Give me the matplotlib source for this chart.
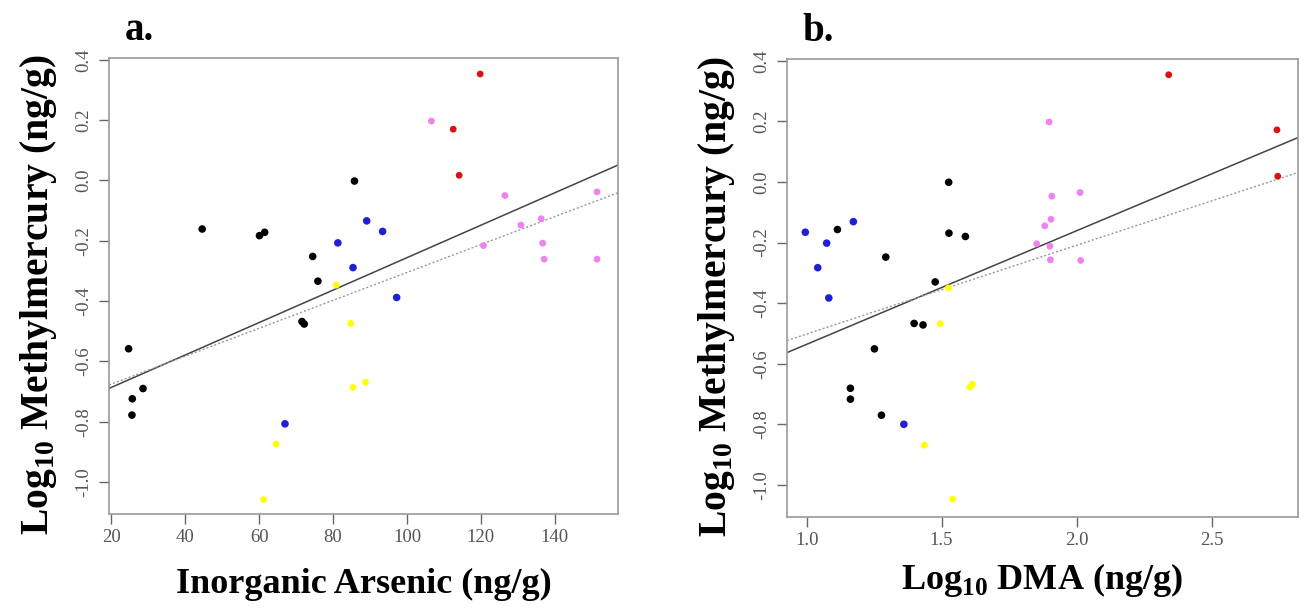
import matplotlib.pyplot as plt
import numpy as np

plt.rcParams['font.family'] = 'Liberation Serif'
plt.rcParams['mathtext.fontset'] = 'custom'
plt.rcParams['mathtext.bf'] = 'Liberation Serif:bold'
plt.rcParams['mathtext.rm'] = 'Liberation Serif:bold'

# groups (same order in both panels)
group_colors = ['black', '#1f1fd8', '#ffff00', '#dd1111', 'violet']

# Log10 methylmercury, per group
mehg_black = [-0.558, -0.724, -0.778, -0.69, -0.161, -0.183, -0.172, -0.002, -0.252, -0.334, -0.468, -0.476]
mehg_blue = [-0.207, -0.134, -0.169, -0.289, -0.388, -0.807]
mehg_yellow = [-0.347, -0.474, -0.686, -0.669, -0.874, -1.058]
mehg_red = [0.353, 0.17, 0.017]
mehg_violet = [0.197, -0.05, -0.038, -0.148, -0.127, -0.216, -0.208, -0.261, -0.261]

# panel a: inorganic arsenic (ng/g)
ias_black = [24.7, 25.7, 25.6, 28.6, 44.6, 60.1, 61.5, 85.8, 74.5, 75.9, 71.6, 72.2]
ias_blue = [81.3, 89.1, 93.4, 85.4, 97.2, 67.0]
ias_yellow = [80.9, 84.8, 85.4, 88.8, 64.6, 61.2]
ias_red = [119.8, 112.5, 114.1]
ias_violet = [106.6, 126.5, 151.4, 130.8, 136.3, 120.7, 136.7, 137.1, 151.4]

# panel b: Log10 DMA, matched to the methylmercury values
mehg_b_black = [-0.157, -0.001, -0.169, -0.18, -0.248, -0.33, -0.467, -0.472, -0.551, -0.681, -0.717, -0.77]
dma_black = [1.114, 1.526, 1.527, 1.588, 1.293, 1.476, 1.398, 1.431, 1.251, 1.162, 1.162, 1.277]
mehg_b_blue = [-0.166, -0.202, -0.131, -0.283, -0.383, -0.80]
dma_blue = [0.995, 1.074, 1.173, 1.041, 1.082, 1.36]
mehg_b_yellow = [-0.35, -0.468, -0.668, -0.677, -0.869, -1.047]
dma_yellow = [1.525, 1.495, 1.614, 1.605, 1.436, 1.541]
mehg_b_red = [0.354, 0.172, 0.019]
dma_red = [2.341, 2.742, 2.745]
mehg_b_violet = [0.198, -0.047, -0.035, -0.123, -0.145, -0.204, -0.212, -0.257, -0.259]
dma_violet = [1.898, 1.908, 2.013, 1.905, 1.882, 1.852, 1.901, 1.903, 2.015]

# fitted lines (intercept, slope): solid and dotted
fit_a_solid = (-0.794, 0.00538)
fit_a_dotted = (-0.768, 0.00463)
fit_b_solid = (-0.911, 0.375)
fit_b_dotted = (-0.795, 0.293)

yticks = [-1.0, -0.8, -0.6, -0.4, -0.2, 0.0, 0.2, 0.4]
xticks_a = [20, 40, 60, 80, 100, 120, 140]
xticks_b = [1.0, 1.5, 2.0, 2.5]

fig = plt.figure(figsize=(13.04, 6.08), dpi=100)
ax_a = fig.add_axes([0.0836, 0.1546, 0.3904, 0.75])
ax_b = fig.add_axes([0.6035, 0.1497, 0.3919, 0.7533])

panels = [
    (ax_a, [ias_black, ias_blue, ias_yellow, ias_red, ias_violet],
     [mehg_black, mehg_blue, mehg_yellow, mehg_red, mehg_violet],
     fit_a_solid, fit_a_dotted, (19.4, 157.1), xticks_a,
     'Inorganic Arsenic (ng/g)', 'a.', 16),
    (ax_b, [dma_black, dma_blue, dma_yellow, dma_red, dma_violet],
     [mehg_b_black, mehg_b_blue, mehg_b_yellow, mehg_b_red, mehg_b_violet],
     fit_b_solid, fit_b_dotted, (0.927, 2.82), xticks_b,
     r'Log$_{\mathbf{10}}$ DMA (ng/g)', 'b.', 9),
]

for ax, xs, ys, solid, dotted, xlim, xt, xlabel, tag, xpad in panels:
    for x, y, c in zip(xs, ys, group_colors):
        size = 30 if c in ('black', '#1f1fd8') else 24
        ax.scatter(x, y, s=size, color=c, edgecolors='none', zorder=3)
    xx = np.array(xlim)
    ax.plot(xx, solid[0] + solid[1] * xx, color='#444444', lw=1.1, zorder=2)
    ax.plot(xx, dotted[0] + dotted[1] * xx, color='#999999', lw=1.0,
            ls=(0, (1.5, 1.5)), zorder=2)
    ax.set_xlim(xlim)
    ax.set_ylim(-1.106, 0.406)
    ax.set_xticks(xt)
    ax.set_yticks(yticks)
    ax.set_yticklabels([f'{v:.1f}' for v in yticks], rotation=90, va='center')
    if ax is ax_b:
        ax.set_xticklabels([f'{v:.1f}' for v in xt])
    for s in ax.spines.values():
        s.set_color('#999999')
        s.set_linewidth(1.2)
    ax.tick_params(direction='out', length=7, width=1, colors='#666666',
                   labelsize=13.5, labelcolor='#555555')
    ax.tick_params(axis='y', pad=5)
    ax.set_xlabel(xlabel, fontsize=26, fontweight='bold', labelpad=xpad)
    ax.set_ylabel(r'Log$_{\mathbf{10}}$ Methylmercury (ng/g)', fontsize=28.5,
                  fontweight='bold', labelpad=12)
    ax.yaxis.label.set_y(0.482)
    ax.text(0.03, 1.02, tag, transform=ax.transAxes, fontsize=28,
            fontweight='bold', va='bottom', ha='left')

fig.savefig('out.png', dpi=100)
